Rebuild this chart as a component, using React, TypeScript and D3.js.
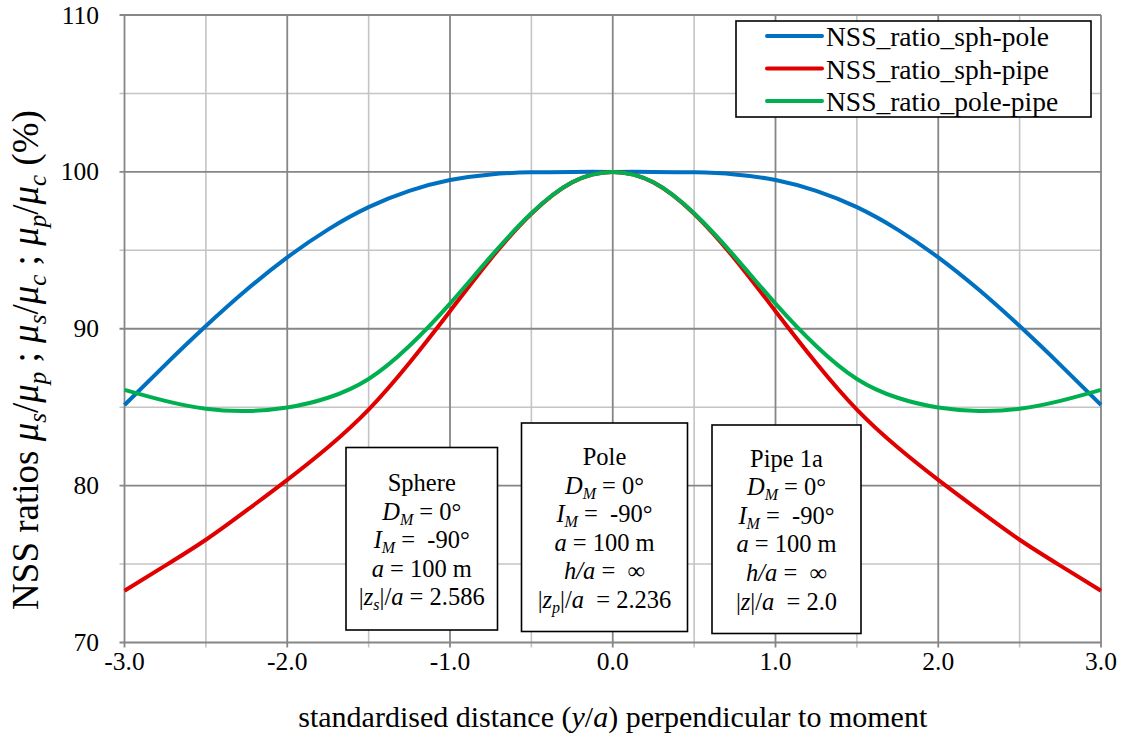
import React from "react";
import * as d3 from "d3";

// ---- data ----
const xs = [-3, -2.75, -2.5, -2.25, -2, -1.75, -1.5, -1.25, -1, -0.75, -0.5, -0.25, 0,
  0.25, 0.5, 0.75, 1, 1.25, 1.5, 1.75, 2, 2.25, 2.5, 2.75, 3];
const sphPole = [85.14, 87.7, 90.17, 92.48, 94.55, 96.32, 97.75, 98.79, 99.48, 99.84, 99.97, 100.0, 100.0,
  100.0, 99.97, 99.84, 99.48, 98.79, 97.75, 96.32, 94.55, 92.48, 90.17, 87.7, 85.14];
const sphPipe = [73.3, 74.9, 76.55, 78.42, 80.37, 82.45, 84.85, 87.82, 91.12, 94.45, 97.33, 99.33, 100.0,
  99.33, 97.33, 94.45, 91.12, 87.82, 84.85, 82.45, 80.37, 78.42, 76.55, 74.9, 73.3];
const polePipe = [86.1, 85.4, 84.9, 84.76, 84.98, 85.6, 86.8, 88.9, 91.6, 94.6, 97.36, 99.34, 100.0,
  99.34, 97.36, 94.6, 91.6, 88.9, 86.8, 85.6, 84.98, 84.76, 84.9, 85.4, 86.1];

const seriesNames = ["NSS_ratio_sph-pole", "NSS_ratio_sph-pipe", "NSS_ratio_pole-pipe"];
const seriesColors = ["#0070C0", "#E00000", "#00B050"];
const seriesValues = [sphPole, sphPipe, polePipe];

const xMajor = [-3, -2, -1, 0, 1, 2, 3];
const xMinor = [-2.5, -1.5, -0.5, 0.5, 1.5, 2.5];
const yMajor = [70, 80, 90, 100, 110];
const yMinor = [75, 85, 95, 105];

type Seg = { t: string; i?: boolean; s?: boolean };
const sphereLines: Seg[][] = [
  [{ t: "Sphere" }],
  [{ t: "D", i: true }, { t: "M", i: true, s: true }, { t: " = 0°" }],
  [{ t: "I", i: true }, { t: "M", i: true, s: true }, { t: " =  -90°" }],
  [{ t: "a", i: true }, { t: " = 100 m" }],
  [{ t: "|" }, { t: "z", i: true }, { t: "s", i: true, s: true }, { t: "|/" }, { t: "a", i: true }, { t: " = 2.586" }],
];
const poleLines: Seg[][] = [
  [{ t: "Pole" }],
  [{ t: "D", i: true }, { t: "M", i: true, s: true }, { t: " = 0°" }],
  [{ t: "I", i: true }, { t: "M", i: true, s: true }, { t: " =  -90°" }],
  [{ t: "a", i: true }, { t: " = 100 m" }],
  [{ t: "h/a", i: true }, { t: " =  ∞" }],
  [{ t: "|" }, { t: "z", i: true }, { t: "p", i: true, s: true }, { t: "|/" }, { t: "a", i: true }, { t: "  = 2.236" }],
];
const pipeLines: Seg[][] = [
  [{ t: "Pipe 1a" }],
  [{ t: "D", i: true }, { t: "M", i: true, s: true }, { t: " = 0°" }],
  [{ t: "I", i: true }, { t: "M", i: true, s: true }, { t: " =  -90°" }],
  [{ t: "a", i: true }, { t: " = 100 m" }],
  [{ t: "h/a", i: true }, { t: " =  ∞" }],
  [{ t: "|" }, { t: "z", i: true }, { t: "|/" }, { t: "a", i: true }, { t: "  = 2.0" }],
];
const yTitle: Seg[] = [
  { t: "NSS ratios " },
  { t: "μ", i: true }, { t: "s", i: true, s: true }, { t: "/" }, { t: "μ", i: true }, { t: "p", i: true, s: true },
  { t: " ; " },
  { t: "μ", i: true }, { t: "s", i: true, s: true }, { t: "/" }, { t: "μ", i: true }, { t: "c", i: true, s: true },
  { t: " ; " },
  { t: "μ", i: true }, { t: "p", i: true, s: true }, { t: "/" }, { t: "μ", i: true }, { t: "c", i: true, s: true },
  { t: " (%)" },
];
const xTitle: Seg[] = [
  { t: "standardised distance (" }, { t: "y", i: true }, { t: "/" }, { t: "a", i: true }, { t: ") perpendicular to moment" },
];

const FONT = "'Liberation Serif', 'Times New Roman', serif";

function segs(list: Seg[], subSize: number, shift: number) {
  let down = false;
  return list.map((sg, k) => {
    let dy = 0;
    if (sg.s && !down) { dy = shift; down = true; }
    else if (!sg.s && down) { dy = -shift; down = false; }
    return (
      <tspan key={k} dy={dy || undefined} fontStyle={sg.i ? "italic" : "normal"}
        fontSize={sg.s ? subSize : undefined}>{sg.t}</tspan>
    );
  });
}

function InfoBox({ x0, y0, x1, y1, lines, base, step }:
  { x0: number; y0: number; x1: number; y1: number; lines: Seg[][]; base: number; step: number }) {
  const cx = (x0 + x1) / 2;
  return (
    <g>
      <rect x={x0} y={y0} width={x1 - x0} height={y1 - y0} fill="#fff" stroke="#000" strokeWidth={1.6} />
      {lines.map((ln, k) => (
        <text key={k} x={cx} y={base + k * step} textAnchor="middle" fontSize={24.5}
          style={{ whiteSpace: "pre" }}>{segs(ln, 16, 5)}</text>
      ))}
    </g>
  );
}

export default function App() {
  const W = 1125, H = 745;
  const x = d3.scaleLinear().domain([-3, 3]).range([124.5, 1101]);
  const y = d3.scaleLinear().domain([70, 110]).range([642.5, 15]);
  const line = d3.line<[number, number]>()
    .x(d => x(d[0])).y(d => y(d[1])).curve(d3.curveNatural);

  const x0 = x(-3), x1 = x(3), y0 = y(110), y1 = y(70);
  const major = "#868686", minor = "#c4c4c4";

  return (
    <div style={{ position: "absolute", left: 0, top: 0 }}>
      <svg width={W} height={H} style={{ display: "block", fontFamily: FONT }} fill="#000">
        <rect width={W} height={H} fill="#fff" />
        {/* minor grid */}
        {xMinor.map(v => <line key={"xm" + v} x1={x(v)} x2={x(v)} y1={y0} y2={y1 + 5} stroke={minor} strokeWidth={1.6} />)}
        {yMinor.map(v => <line key={"ym" + v} x1={x0 - 5} x2={x1} y1={y(v)} y2={y(v)} stroke={minor} strokeWidth={1.6} />)}
        {/* major grid */}
        {xMajor.map(v => <line key={"xM" + v} x1={x(v)} x2={x(v)} y1={y0} y2={y1 + 5} stroke={major} strokeWidth={1.8} />)}
        {yMajor.map(v => <line key={"yM" + v} x1={x0 - 5} x2={x1} y1={y(v)} y2={y(v)} stroke={major} strokeWidth={1.8} />)}

        {/* y tick labels */}
        {yMajor.map(v => (
          <text key={"yl" + v} x={99} y={y(v) + 8.5} textAnchor="end" fontSize={25.5}>{v}</text>
        ))}
        {/* x tick labels */}
        {xMajor.map(v => (
          <text key={"xl" + v} x={x(v)} y={670} textAnchor="middle" fontSize={25.5}>{v.toFixed(1)}</text>
        ))}

        {/* curves */}
        {seriesValues.map((vals, k) => (
          <path key={"s" + k} d={line(xs.map((xv, j) => [xv, vals[j]] as [number, number])) || ""}
            fill="none" stroke={seriesColors[k]} strokeWidth={4} strokeLinejoin="round" />
        ))}

        {/* info boxes */}
        <InfoBox x0={346} y0={447.5} x1={497.5} y1={630} lines={sphereLines} base={491} step={28.5} />
        <InfoBox x0={521.5} y0={423} x1={687.5} y1={631.5} lines={poleLines} base={465} step={28.6} />
        <InfoBox x0={712} y0={425} x1={861} y1={633.5} lines={pipeLines} base={466.5} step={28.6} />

        {/* legend */}
        <rect x={736} y={21} width={355} height={96} fill="#fff" stroke="#000" strokeWidth={1.6} />
        {seriesNames.map((nm, k) => {
          const ly = 36 + k * 32.5;
          return (
            <g key={"lg" + k}>
              <line x1={767} x2={822} y1={ly} y2={ly} stroke={seriesColors[k]} strokeWidth={4} strokeLinecap="round" />
              <text x={826} y={ly + 10} fontSize={27.5}>{nm}</text>
            </g>
          );
        })}

        {/* axis titles */}
        <text x={612.75} y={727} textAnchor="middle" fontSize={30} style={{ whiteSpace: "pre" }}>
          {segs(xTitle, 20, 7)}
        </text>
        <text transform="translate(38,360) rotate(-90)" textAnchor="middle" fontSize={37} style={{ whiteSpace: "pre" }}>
          {segs(yTitle, 25, 8)}
        </text>
      </svg>
    </div>
  );
}
